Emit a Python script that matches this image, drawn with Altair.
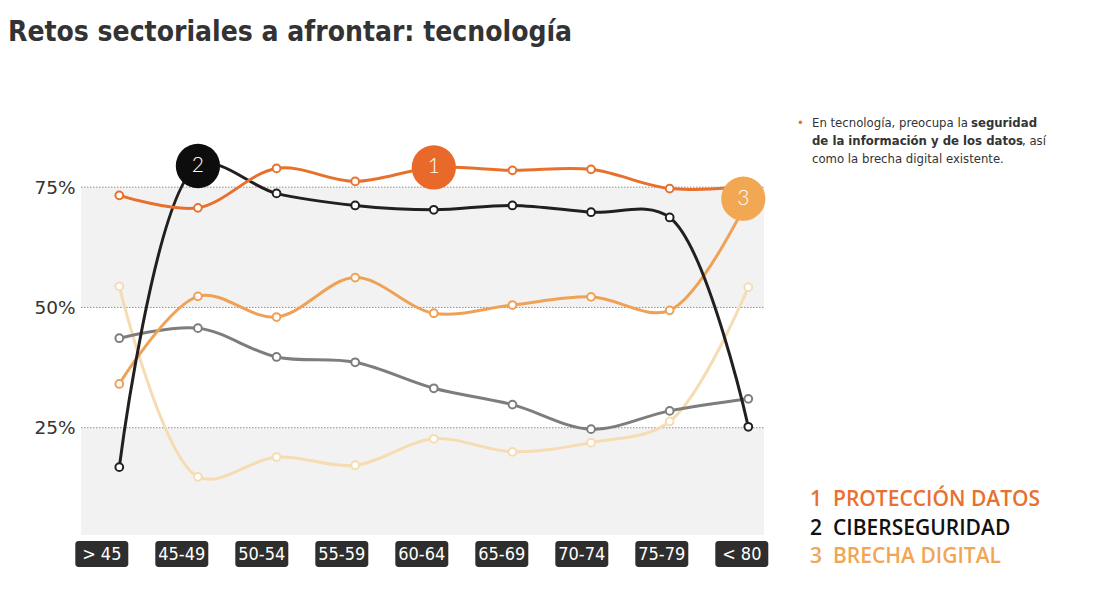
import altair as alt
import pandas as pd

categories = ["> 45", "45-49", "50-54", "55-59", "60-64", "65-69", "70-74", "75-79", "< 80"]

proteccion_datos = [73.3, 70.7, 78.9, 76.2, 79.1, 78.5, 78.7, 74.7, 75.2]
ciberseguridad = [16.8, 79.4, 73.7, 71.2, 70.3, 71.2, 69.8, 68.7, 25.2]
brecha_digital = [34.1, 52.3, 48.0, 56.2, 48.8, 50.5, 52.2, 49.4, 72.6]
otro_gris = [43.6, 45.7, 39.7, 38.6, 33.2, 29.8, 24.7, 28.5, 31.0]
otro_claro = [54.4, 14.8, 18.9, 17.2, 22.7, 20.0, 21.9, 26.3, 54.2]

series_names = ["Otro (claro)", "Otro (gris)", "BRECHA DIGITAL", "CIBERSEGURIDAD", "PROTECCIÓN DATOS"]
series_values = [otro_claro, otro_gris, brecha_digital, ciberseguridad, proteccion_datos]
series_colors = ["#f6dcb3", "#7d7d7d", "#efa155", "#231f20", "#e8702d"]

legend_numbers = ["1", "2", "3"]
legend_names = ["PROTECCIÓN DATOS", "CIBERSEGURIDAD", "BRECHA DIGITAL"]
legend_colors = ["#e8712f", "#111111", "#f0a655"]
badge_series = ["PROTECCIÓN DATOS", "CIBERSEGURIDAD", "BRECHA DIGITAL"]
badge_categories = ["60-64", "45-49", "< 80"]
badge_fill = ["#e9692a", "#0d0d0d", "#f2a752"]
badge_shift = [0, 0, -5]

grid_values = [25, 50, 75]
band_low = [50, 2.7]
band_high = [75, 25]

W, H = 683, 420
FONT = "DejaVu Sans Condensed, Lato, DejaVu Sans"
NARROW = "Liberation Sans Narrow, DejaVu Sans Condensed, Roboto"

rows = []
for name, vals in zip(series_names, series_values):
    for c, v in zip(categories, vals):
        rows.append({"serie": name, "edad": c, "valor": v})
df = pd.DataFrame(rows)

xs = alt.Scale(type="point", domain=categories, range=[38.3, 667.3], padding=0)
ys = alt.Scale(domain=[2.7, 90], nice=False, zero=False)

bands = alt.Chart(pd.DataFrame({"lo": band_low, "hi": band_high})).mark_rect(color="#f3f2f3").encode(
    y=alt.Y("hi:Q", scale=ys, axis=alt.Axis(values=grid_values, labelExpr="datum.value + '%'",
                                              labelFontSize=18.5, labelColor="#333333", labelFont="DejaVu Sans",
                                              labelPadding=6, domain=False, ticks=False, grid=False, title=None)),
    y2="lo:Q",
    x=alt.value(0), x2=alt.value(W),
)

grid = alt.Chart(pd.DataFrame({"g": grid_values})).mark_rule(color="#8f8f8f", strokeWidth=1, strokeDash=[1.5, 1.5]).encode(
    y=alt.Y("g:Q", scale=ys), x=alt.value(0), x2=alt.value(W)
)

layers = [bands, grid]
for name, col in zip(series_names, series_colors):
    base = alt.Chart(df).transform_filter(alt.datum.serie == name)
    line = base.mark_line(interpolate="catmull-rom", strokeWidth=3, color=col).encode(
        x=alt.X("edad:N", scale=xs, axis=None, sort=categories),
        y=alt.Y("valor:Q", scale=ys),
    )
    pts = base.mark_point(filled=True, fill="white", stroke=col, strokeWidth=2, size=60, opacity=1).encode(
        x=alt.X("edad:N", scale=xs, axis=None, sort=categories),
        y=alt.Y("valor:Q", scale=ys),
    )
    layers += [line, pts]

# numbered circles placed on the series points
brows = []
for num, s, c, f, sh in zip(legend_numbers, badge_series, badge_categories, badge_fill, badge_shift):
    v = series_values[series_names.index(s)][categories.index(c)]
    brows.append({"n": num, "edad": c, "valor": v, "fill": f, "sh": sh})
bdf = pd.DataFrame(brows)
circles = alt.Chart(bdf).mark_circle(size=1960, opacity=1).encode(
    x=alt.X("edad:N", scale=xs, axis=None, sort=categories),
    xOffset=alt.XOffset("sh:Q", scale=None),
    y=alt.Y("valor:Q", scale=ys),
    color=alt.Color("fill:N", scale=None),
)
circle_text = alt.Chart(bdf).mark_text(color="white", fontSize=21, font="Lato, Open Sans", fontWeight=300,
                                       baseline="middle", align="center").encode(
    x=alt.X("edad:N", scale=xs, axis=None, sort=categories),
    xOffset=alt.XOffset("sh:Q", scale=None),
    y=alt.Y("valor:Q", scale=ys),
    text="n:N",
)
layers += [circles, circle_text]

# category badges under the plot
bx = alt.Scale(type="point", domain=categories, range=[20.8, 660.8], padding=0)
cdf = pd.DataFrame({"edad": categories})
badges = alt.Chart(cdf).mark_rect(color="#2e2e2e", cornerRadius=3, width=53).encode(
    x=alt.X("edad:N", scale=bx, axis=None, sort=categories),
    y=alt.value(H + 6), y2=alt.value(H + 32),
)
badge_text = alt.Chart(cdf).mark_text(color="white", fontSize=18, font=NARROW, baseline="middle").encode(
    x=alt.X("edad:N", scale=bx, axis=None, sort=categories),
    y=alt.value(H + 20),
    text="edad:N",
)
layers += [badges, badge_text]

# right-hand commentary
def txt(t, x, y, color="#333333", **kw):
    return alt.Chart(pd.DataFrame({"t": [t]})).mark_text(baseline="alphabetic", font=FONT, fontSize=13,
                                                        color=color, align="left", **kw).encode(
        x=alt.value(x), y=alt.value(y), text="t:N")

TX = 731
layers += [
    txt("•", 716, 12, color="#e8702d"),
    txt("En tecnología, preocupa la", TX, 12),
    txt("seguridad", 890, 12, fontWeight="bold"),
    txt("de la información y de los datos", TX, 30, fontWeight="bold"),
    txt(", así", 941, 30),
    txt("como la brecha digital existente.", TX, 48),
]

# numbered legend
ldf = pd.DataFrame({"n": legend_numbers, "name": legend_names, "c": legend_colors, "y": [0, 1, 2]})
ly = alt.Scale(domain=[0, 2], range=[391, 448])
leg_num = alt.Chart(ldf).mark_text(align="left", baseline="alphabetic", fontSize=21, font="Open Sans",
                                   fontWeight=600).encode(
    x=alt.value(729), y=alt.Y("y:Q", scale=ly, axis=None), text="n:N", color=alt.Color("c:N", scale=None))
leg_name = alt.Chart(ldf).mark_text(align="left", baseline="alphabetic", fontSize=21, font="Open Sans",
                                    fontWeight=600).encode(
    x=alt.value(752), y=alt.Y("y:Q", scale=ly, axis=None), text="name:N", color=alt.Color("c:N", scale=None))
legend = alt.layer(leg_num, leg_name)

main = alt.layer(*layers).resolve_scale(x="independent")

chart = alt.layer(main, legend).resolve_scale(y="independent").properties(
    width=W, height=H,
    background="white",
    padding={"left": 73, "top": 107, "right": 320, "bottom": 50},
    autosize=alt.AutoSizeParams(type="none"),
    title=alt.Title("Retos sectoriales a afrontar: tecnología", anchor="start", frame="group", dx=-73,
                    offset=68, fontSize=28, font=FONT, fontWeight="bold", color="#333333"),
).configure_view(strokeWidth=0, stroke=None)

chart.save("out.html", embed_options={"renderer": "svg", "actions": False})
